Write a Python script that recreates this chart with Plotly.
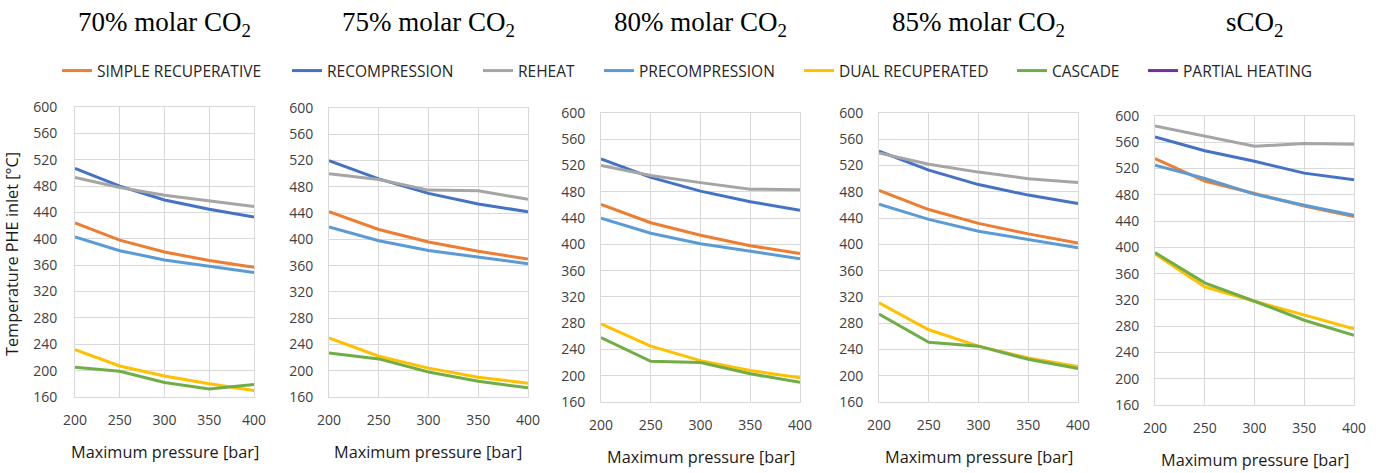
import plotly.graph_objects as go

W, H = 1384, 473

pressure = [200, 250, 300, 350, 400]
panel_titles = ["70% molar CO<sub>2</sub>", "75% molar CO<sub>2</sub>", "80% molar CO<sub>2</sub>",
                "85% molar CO<sub>2</sub>", "sCO<sub>2</sub>"]
series_names = ["SIMPLE RECUPERATIVE", "RECOMPRESSION", "REHEAT", "PRECOMPRESSION",
                "DUAL RECUPERATED", "CASCADE", "PARTIAL HEATING"]
y_ticks = [160, 200, 240, 280, 320, 360, 400, 440, 480, 520, 560, 600]

# one list per panel (70%, 75%, 80%, 85%, sCO2), values at pressure points
simple_recuperative = [
    [424, 398, 380, 367, 357],
    [442, 415, 396, 382, 370],
    [461, 433, 414, 398, 386],
    [482, 453, 432, 416, 402],
    [535, 501, 482, 463, 447],
]
recompression = [
    [507, 480, 459, 445, 433],
    [520, 492, 470, 454, 442],
    [530, 502, 481, 465, 452],
    [542, 513, 491, 475, 462],
    [568, 547, 531, 513, 503],
]
reheat = [
    [493, 478, 466, 457, 449],
    [500, 491, 475, 474, 461],
    [520, 505, 494, 484, 483],
    [539, 522, 510, 500, 494],
    [585, 570, 554, 558, 557],
]
precompression = [
    [403, 382, 368, 359, 349],
    [419, 398, 383, 373, 363],
    [440, 417, 401, 389, 378],
    [461, 438, 420, 407, 395],
    [525, 505, 481, 464, 449],
]
dual_recuperated = [
    [232, 207, 192, 180, 170],
    [250, 222, 204, 190, 181],
    [279, 245, 223, 208, 197],
    [311, 270, 245, 227, 214],
    [390, 340, 318, 297, 276],
]
cascade = [
    [205, 199, 182, 172, 179],
    [227, 218, 198, 184, 174],
    [258, 222, 220, 203, 190],
    [294, 251, 245, 225, 211],
    [392, 346, 318, 289, 266],
]
# no values shown for partial heating (legend entry only)
partial_heating = [[None] * 5 for _ in range(5)]

all_series = [simple_recuperative, recompression, reheat, precompression,
              dual_recuperated, cascade, partial_heating]
colors = ["#ED7D31", "#4472C4", "#A5A5A5", "#5B9BD5", "#FFC000", "#70AD47", "#7030A0"]

# layout (pixels)
boxes = [(75, 254, 107, 397), (329, 528, 108, 397), (601, 800, 113, 402),
         (879, 1078, 113, 402), (1155, 1354, 116, 405)]
legend_starts = [62, 292, 483, 604, 804, 1017, 1148]


def px(x):
    return x / W


def py(y):
    return 1 - y / H


fig = go.Figure()
tick_font = dict(family="Open Sans", size=14, color="#404040")
title_font = dict(family="Open Sans", size=16.3, color="#1a1a1a")

legend_keys = ["legend"] + [f"legend{i}" for i in range(2, 8)]

for p in range(5):
    for s, name in enumerate(series_names):
        vals = all_series[s][p]
        fig.add_trace(go.Scatter(
            x=pressure, y=vals, mode="lines", name=name,
            line=dict(color=colors[s], width=3),
            xaxis="x" if p == 0 else f"x{p+1}",
            yaxis="y" if p == 0 else f"y{p+1}",
            showlegend=(p == 0), legendgroup=name, legend=legend_keys[s],
        ))
    l, r, t, b = boxes[p]
    sfx = "" if p == 0 else str(p + 1)
    fig.update_layout(**{
        f"xaxis{sfx}": dict(
            domain=[px(l), px(r)], anchor=f"y{sfx}", range=[200, 400],
            tickvals=pressure, showgrid=True, gridcolor="#D9D9D9", gridwidth=1,
            showline=True, linecolor="#D9D9D9", mirror=True, zeroline=False,
            ticks="outside", ticklen=10, tickcolor="rgba(0,0,0,0)",
            tickfont=tick_font, automargin=False, fixedrange=True,
        ),
        f"yaxis{sfx}": dict(
            domain=[py(b), py(t)], anchor=f"x{sfx}", range=[160, 600],
            tickvals=y_ticks, showgrid=True, gridcolor="#D9D9D9", gridwidth=1,
            showline=True, linecolor="#D9D9D9", mirror=True, zeroline=False,
            ticks="outside", ticklen=14 if p == 0 else 12, tickcolor="rgba(0,0,0,0)",
            tickfont=tick_font, automargin=False, fixedrange=True,
        ),
    })
    fig.add_annotation(x=px((l + r) / 2), y=py(24), xref="paper", yref="paper",
                       text=panel_titles[p], showarrow=False, xanchor="center", yanchor="middle",
                       font=dict(family="Liberation Serif", size=27, color="#000000"))
    fig.add_annotation(x=px((l + r) / 2), y=py(b + 55), xref="paper", yref="paper",
                       text="Maximum pressure [bar]", showarrow=False,
                       xanchor="center", yanchor="middle", font=title_font)

fig.add_annotation(x=px(12), y=py(254), xref="paper", yref="paper",
                   text="Temperature PHE inlet [°C]", showarrow=False, textangle=-90,
                   xanchor="center", yanchor="middle", font=title_font)

legend_layout = {}
for i, key in enumerate(legend_keys):
    legend_layout[key] = dict(
        orientation="h", x=px(legend_starts[i] - 5), xanchor="left",
        y=py(71), yanchor="middle", itemwidth=30,
        font=dict(family="Open Sans", size=15.5, color="#262626"),
        bgcolor="rgba(0,0,0,0)", borderwidth=0,
    )

fig.update_layout(
    width=W, height=H,
    margin=dict(l=0, r=0, t=0, b=0),
    paper_bgcolor="white", plot_bgcolor="white",
    **legend_layout,
)

fig.write_html("out.html")
